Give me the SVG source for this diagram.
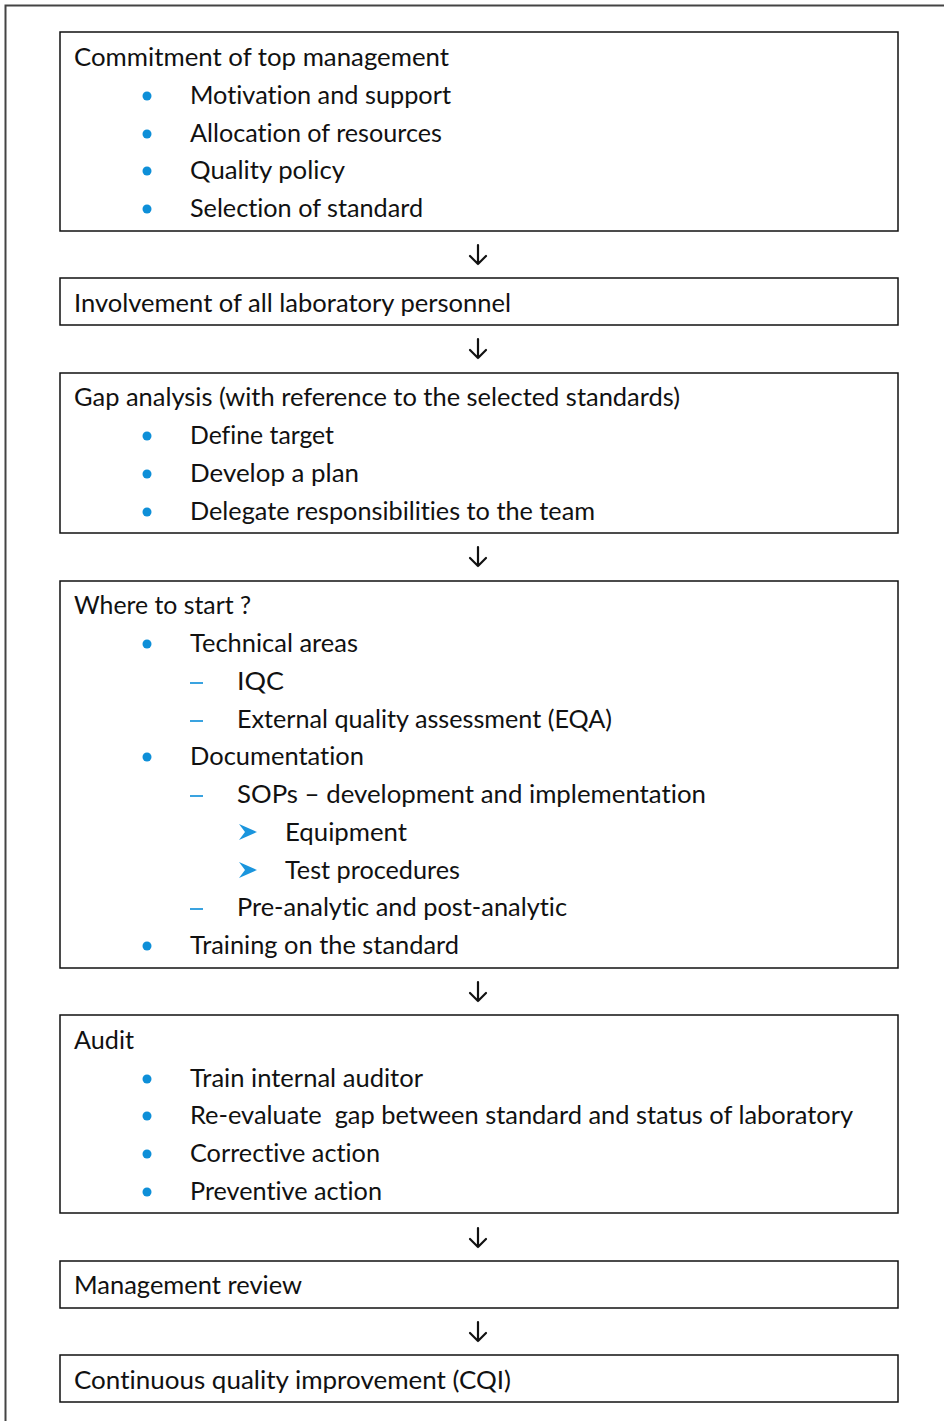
<svg xmlns="http://www.w3.org/2000/svg" width="944" height="1421" viewBox="0 0 944 1421">
<style>
.box{fill:#fff;stroke:#111;stroke-width:1.5}
.t{font-family:"Lato","Open Sans","Liberation Sans",sans-serif;font-size:25px;fill:#111;font-variant-ligatures:none;font-feature-settings:"liga" 0}
.dot{fill:#0e8fd8}
.dash{stroke:#3aa3e0;stroke-width:2}
.arr{fill:#1a95dd}
.con{stroke:#111;stroke-width:2.2;fill:none;stroke-linecap:round;stroke-linejoin:round}
</style>
<defs>
<path id="chev" d="M0,0 L18,8 L0,16 L6,8 Z"/>
</defs>
<rect width="944" height="1421" fill="#fff"/>
<path d="M944,5.5 H5.5 V1421" fill="none" stroke="#444" stroke-width="2"/>

<g id="n1">
<rect class="box" x="60" y="32" width="838" height="199"/>
<text class="t" x="74" y="66" textLength="375" lengthAdjust="spacingAndGlyphs">Commitment of top management</text>
<circle class="dot" cx="147" cy="96" r="4.5"/><text class="t" x="190" y="104" textLength="261" lengthAdjust="spacingAndGlyphs">Motivation and support</text>
<circle class="dot" cx="147" cy="134" r="4.5"/><text class="t" x="190" y="142" textLength="252" lengthAdjust="spacingAndGlyphs">Allocation of resources</text>
<circle class="dot" cx="147" cy="171" r="4.5"/><text class="t" x="190" y="179" textLength="155" lengthAdjust="spacingAndGlyphs">Quality policy</text>
<circle class="dot" cx="147" cy="209" r="4.5"/><text class="t" x="190" y="217" textLength="233" lengthAdjust="spacingAndGlyphs">Selection of standard</text>
</g>

<g id="n2">
<rect class="box" x="60" y="278" width="838" height="47"/>
<text class="t" x="74" y="312" textLength="437" lengthAdjust="spacingAndGlyphs">Involvement of all laboratory personnel</text>
</g>

<g id="n3">
<rect class="box" x="60" y="373" width="838" height="160"/>
<text class="t" x="74" y="406" textLength="606" lengthAdjust="spacingAndGlyphs">Gap analysis (with reference to the selected standards)</text>
<circle class="dot" cx="147" cy="436" r="4.5"/><text class="t" x="190" y="444" textLength="144" lengthAdjust="spacingAndGlyphs">Define target</text>
<circle class="dot" cx="147" cy="474" r="4.5"/><text class="t" x="190" y="482" textLength="169" lengthAdjust="spacingAndGlyphs">Develop a plan</text>
<circle class="dot" cx="147" cy="512" r="4.5"/><text class="t" x="190" y="520" textLength="405" lengthAdjust="spacingAndGlyphs">Delegate responsibilities to the team</text>
</g>

<g id="n4">
<rect class="box" x="60" y="581" width="838" height="387"/>
<text class="t" x="74" y="614" textLength="177" lengthAdjust="spacingAndGlyphs">Where to start ?</text>
<circle class="dot" cx="147" cy="644" r="4.5"/><text class="t" x="190" y="652" textLength="168" lengthAdjust="spacingAndGlyphs">Technical areas</text>
<line class="dash" x1="190" y1="683" x2="203" y2="683"/><text class="t" x="237" y="690" textLength="47" lengthAdjust="spacingAndGlyphs">IQC</text>
<line class="dash" x1="190" y1="721" x2="203" y2="721"/><text class="t" x="237" y="728" textLength="375" lengthAdjust="spacingAndGlyphs">External quality assessment (EQA)</text>
<circle class="dot" cx="147" cy="757" r="4.5"/><text class="t" x="190" y="765" textLength="174" lengthAdjust="spacingAndGlyphs">Documentation</text>
<line class="dash" x1="190" y1="796" x2="203" y2="796"/><text class="t" x="237" y="803" textLength="469" lengthAdjust="spacingAndGlyphs">SOPs – development and implementation</text>
<use href="#chev" class="arr" x="239" y="824"/><text class="t" x="285" y="841" textLength="122" lengthAdjust="spacingAndGlyphs">Equipment</text>
<use href="#chev" class="arr" x="239" y="862"/><text class="t" x="285" y="879" textLength="175" lengthAdjust="spacingAndGlyphs">Test procedures</text>
<line class="dash" x1="190" y1="909" x2="203" y2="909"/><text class="t" x="237" y="916" textLength="330" lengthAdjust="spacingAndGlyphs">Pre-analytic and post-analytic</text>
<circle class="dot" cx="147" cy="946" r="4.5"/><text class="t" x="190" y="954" textLength="269" lengthAdjust="spacingAndGlyphs">Training on the standard</text>
</g>

<g id="n5">
<rect class="box" x="60" y="1015" width="838" height="198"/>
<text class="t" x="74" y="1049" textLength="60" lengthAdjust="spacingAndGlyphs">Audit</text>
<circle class="dot" cx="147" cy="1079" r="4.5"/><text class="t" x="190" y="1087" textLength="233" lengthAdjust="spacingAndGlyphs">Train internal auditor</text>
<circle class="dot" cx="147" cy="1116" r="4.5"/><text class="t" x="190" y="1124" textLength="663" lengthAdjust="spacingAndGlyphs" xml:space="preserve">Re-evaluate  gap between standard and status of laboratory</text>
<circle class="dot" cx="147" cy="1154" r="4.5"/><text class="t" x="190" y="1162" textLength="190" lengthAdjust="spacingAndGlyphs">Corrective action</text>
<circle class="dot" cx="147" cy="1192" r="4.5"/><text class="t" x="190" y="1200" textLength="192" lengthAdjust="spacingAndGlyphs">Preventive action</text>
</g>

<g id="n6">
<rect class="box" x="60" y="1261" width="838" height="47"/>
<text class="t" x="74" y="1294" textLength="228" lengthAdjust="spacingAndGlyphs">Management review</text>
</g>

<g id="n7">
<rect class="box" x="60" y="1355" width="838" height="47"/>
<text class="t" x="74" y="1389" textLength="437" lengthAdjust="spacingAndGlyphs">Continuous quality improvement (CQI)</text>
</g>

<g id="connectors">
<path class="con" d="M478,245 V264 M470,256 L478,264 L486,256"/>
<path class="con" d="M478,339 V358 M470,350 L478,358 L486,350"/>
<path class="con" d="M478,547 V566 M470,558 L478,566 L486,558"/>
<path class="con" d="M478,982 V1001 M470,993 L478,1001 L486,993"/>
<path class="con" d="M478,1228 V1247 M470,1239 L478,1247 L486,1239"/>
<path class="con" d="M478,1322 V1341 M470,1333 L478,1341 L486,1333"/>
</g>
</svg>
